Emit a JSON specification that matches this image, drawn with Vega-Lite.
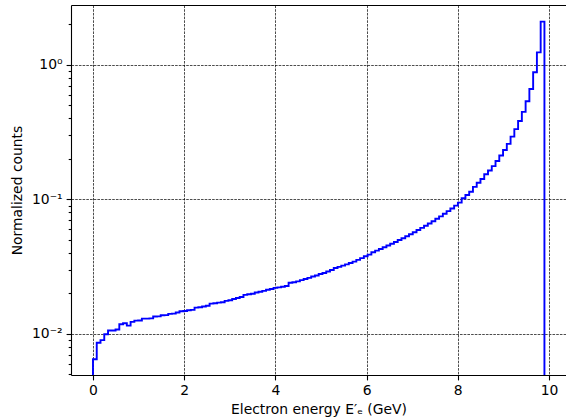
{
  "$schema": "https://vega.github.io/schema/vega-lite/v6.json",
  "width": 495,
  "height": 370,
  "autosize": {"type": "none"},
  "padding": {"left": 71, "top": 5, "right": 0, "bottom": 44},
  "background": "white",
  "config": {
    "view": {"stroke": null},
    "font": "DejaVu Sans",
    "axis": {
      "labelFont": "DejaVu Sans",
      "titleFont": "DejaVu Sans",
      "labelFontSize": 13.9,
      "titleFontSize": 13.9,
      "titleFontWeight": "normal",
      "labelColor": "#000",
      "titleColor": "#000",
      "domainColor": "#000",
      "domainWidth": 1.1,
      "tickColor": "#000",
      "tickWidth": 1.1,
      "gridColor": "#000",
      "gridWidth": 0.7,
      "gridDash": [2.6, 1.1]
    }
  },
  "data": {
    "values": [
      {"i": 0, "x": 0, "y": 0.001},
      {"i": 1, "x": 0, "y": 0.00649},
      {"i": 2, "x": 0.0825, "y": 0.0086},
      {"i": 3, "x": 0.165, "y": 0.0090},
      {"i": 4, "x": 0.2475, "y": 0.00995},
      {"i": 5, "x": 0.33, "y": 0.0106},
      {"i": 6, "x": 0.4125, "y": 0.0106},
      {"i": 7, "x": 0.495, "y": 0.0108},
      {"i": 8, "x": 0.5775, "y": 0.0118},
      {"i": 9, "x": 0.66, "y": 0.0120},
      {"i": 10, "x": 0.7425, "y": 0.01153},
      {"i": 11, "x": 0.825, "y": 0.0123},
      {"i": 12, "x": 0.9075, "y": 0.01256},
      {"i": 13, "x": 0.99, "y": 0.01258},
      {"i": 14, "x": 1.0725, "y": 0.0130},
      {"i": 15, "x": 1.155, "y": 0.0130},
      {"i": 16, "x": 1.2375, "y": 0.01305},
      {"i": 17, "x": 1.32, "y": 0.01346},
      {"i": 18, "x": 1.4025, "y": 0.0135},
      {"i": 19, "x": 1.485, "y": 0.01375},
      {"i": 20, "x": 1.5675, "y": 0.0138},
      {"i": 21, "x": 1.65, "y": 0.0141},
      {"i": 22, "x": 1.7325, "y": 0.01415},
      {"i": 23, "x": 1.815, "y": 0.01442},
      {"i": 24, "x": 1.8975, "y": 0.01476},
      {"i": 25, "x": 1.98, "y": 0.0148},
      {"i": 26, "x": 2.0625, "y": 0.0150},
      {"i": 27, "x": 2.145, "y": 0.0151},
      {"i": 28, "x": 2.2275, "y": 0.0157},
      {"i": 29, "x": 2.31, "y": 0.0158},
      {"i": 30, "x": 2.3925, "y": 0.0160},
      {"i": 31, "x": 2.475, "y": 0.0162},
      {"i": 32, "x": 2.5575, "y": 0.0168},
      {"i": 33, "x": 2.64, "y": 0.0169},
      {"i": 34, "x": 2.7225, "y": 0.0171},
      {"i": 35, "x": 2.805, "y": 0.0172},
      {"i": 36, "x": 2.8875, "y": 0.0176},
      {"i": 37, "x": 2.97, "y": 0.0178},
      {"i": 38, "x": 3.0525, "y": 0.0182},
      {"i": 39, "x": 3.135, "y": 0.0185},
      {"i": 40, "x": 3.2175, "y": 0.0188},
      {"i": 41, "x": 3.3, "y": 0.0195},
      {"i": 42, "x": 3.3825, "y": 0.0197},
      {"i": 43, "x": 3.465, "y": 0.0199},
      {"i": 44, "x": 3.5475, "y": 0.0203},
      {"i": 45, "x": 3.63, "y": 0.0206},
      {"i": 46, "x": 3.7125, "y": 0.0209},
      {"i": 47, "x": 3.795, "y": 0.0213},
      {"i": 48, "x": 3.8775, "y": 0.0216},
      {"i": 49, "x": 3.96, "y": 0.0220},
      {"i": 50, "x": 4.0425, "y": 0.0222},
      {"i": 51, "x": 4.125, "y": 0.0224},
      {"i": 52, "x": 4.2075, "y": 0.0227},
      {"i": 53, "x": 4.29, "y": 0.0240},
      {"i": 54, "x": 4.3725, "y": 0.0242},
      {"i": 55, "x": 4.455, "y": 0.0246},
      {"i": 56, "x": 4.5375, "y": 0.0251},
      {"i": 57, "x": 4.62, "y": 0.0256},
      {"i": 58, "x": 4.7025, "y": 0.0261},
      {"i": 59, "x": 4.785, "y": 0.0267},
      {"i": 60, "x": 4.8675, "y": 0.0272},
      {"i": 61, "x": 4.95, "y": 0.0279},
      {"i": 62, "x": 5.0325, "y": 0.0284},
      {"i": 63, "x": 5.115, "y": 0.0291},
      {"i": 64, "x": 5.1975, "y": 0.0299},
      {"i": 65, "x": 5.28, "y": 0.0309},
      {"i": 66, "x": 5.3625, "y": 0.0315},
      {"i": 67, "x": 5.445, "y": 0.0322},
      {"i": 68, "x": 5.5275, "y": 0.0329},
      {"i": 69, "x": 5.61, "y": 0.0337},
      {"i": 70, "x": 5.6925, "y": 0.0345},
      {"i": 71, "x": 5.775, "y": 0.0355},
      {"i": 72, "x": 5.8575, "y": 0.0366},
      {"i": 73, "x": 5.94, "y": 0.0378},
      {"i": 74, "x": 6.0225, "y": 0.0389},
      {"i": 75, "x": 6.105, "y": 0.0405},
      {"i": 76, "x": 6.1875, "y": 0.0416},
      {"i": 77, "x": 6.27, "y": 0.0428},
      {"i": 78, "x": 6.3525, "y": 0.0441},
      {"i": 79, "x": 6.435, "y": 0.0454},
      {"i": 80, "x": 6.5175, "y": 0.0468},
      {"i": 81, "x": 6.6, "y": 0.0483},
      {"i": 82, "x": 6.6825, "y": 0.0499},
      {"i": 83, "x": 6.765, "y": 0.0515},
      {"i": 84, "x": 6.8475, "y": 0.0532},
      {"i": 85, "x": 6.93, "y": 0.0551},
      {"i": 86, "x": 7.0125, "y": 0.0570},
      {"i": 87, "x": 7.095, "y": 0.0592},
      {"i": 88, "x": 7.1775, "y": 0.0614},
      {"i": 89, "x": 7.26, "y": 0.0637},
      {"i": 90, "x": 7.3425, "y": 0.0662},
      {"i": 91, "x": 7.425, "y": 0.0689},
      {"i": 92, "x": 7.5075, "y": 0.0718},
      {"i": 93, "x": 7.59, "y": 0.0748},
      {"i": 94, "x": 7.6725, "y": 0.0782},
      {"i": 95, "x": 7.755, "y": 0.0818},
      {"i": 96, "x": 7.8375, "y": 0.0857},
      {"i": 97, "x": 7.92, "y": 0.0899},
      {"i": 98, "x": 8.0025, "y": 0.0947},
      {"i": 99, "x": 8.085, "y": 0.102},
      {"i": 100, "x": 8.1675, "y": 0.108},
      {"i": 101, "x": 8.25, "y": 0.114},
      {"i": 102, "x": 8.3325, "y": 0.124},
      {"i": 103, "x": 8.415, "y": 0.133},
      {"i": 104, "x": 8.4975, "y": 0.142},
      {"i": 105, "x": 8.58, "y": 0.154},
      {"i": 106, "x": 8.6625, "y": 0.164},
      {"i": 107, "x": 8.745, "y": 0.177},
      {"i": 108, "x": 8.8275, "y": 0.193},
      {"i": 109, "x": 8.91, "y": 0.212},
      {"i": 110, "x": 8.9925, "y": 0.233},
      {"i": 111, "x": 9.075, "y": 0.259},
      {"i": 112, "x": 9.1575, "y": 0.293},
      {"i": 113, "x": 9.24, "y": 0.333},
      {"i": 114, "x": 9.3225, "y": 0.383},
      {"i": 115, "x": 9.405, "y": 0.448},
      {"i": 116, "x": 9.4875, "y": 0.537},
      {"i": 117, "x": 9.57, "y": 0.663},
      {"i": 118, "x": 9.6525, "y": 0.883},
      {"i": 119, "x": 9.735, "y": 1.24},
      {"i": 120, "x": 9.8175, "y": 2.10},
      {"i": 121, "x": 9.9, "y": 2.10},
      {"i": 122, "x": 9.9, "y": 0.001}
    ]
  },
  "layer": [
    {
      "mark": {"type": "line", "interpolate": "step-after", "color": "#0000ff", "strokeWidth": 1.9, "clip": true},
      "encoding": {
        "x": {
          "field": "x", "type": "quantitative",
          "scale": {"domain": [-0.482, 10.373], "nice": false, "zero": false},
          "axis": {
            "orient": "bottom",
            "values": [0, 2, 4, 6, 8, 10],
            "format": "d",
            "grid": true,
            "tickSize": 4.9,
            "labelPadding": 3.5,
            "title": "Electron energy E′ₑ (GeV)",
            "titlePadding": 5
          }
        },
        "y": {
          "field": "y", "type": "quantitative",
          "scale": {"type": "log", "domain": [0.00495, 2.79], "nice": false},
          "axis": {
            "orient": "left",
            "values": [0.005, 0.006, 0.007, 0.008, 0.009, 0.01, 0.02, 0.03, 0.04, 0.05, 0.06, 0.07, 0.08, 0.09, 0.1, 0.2, 0.3, 0.4, 0.5, 0.6, 0.7, 0.8, 0.9, 1, 2],
            "labelExpr": "datum.value == 1 ? '10⁰' : datum.value == 0.1 ? '10⁻¹' : datum.value == 0.01 ? '10⁻²' : ''",
            "grid": true,
            "gridOpacity": {"condition": {"test": "datum.value == 1 || datum.value == 0.1 || datum.value == 0.01", "value": 1}, "value": 0},
            "tickSize": {"condition": {"test": "datum.value == 1 || datum.value == 0.1 || datum.value == 0.01", "value": 4.9}, "value": 2.8},
            "labelPadding": 4,
            "labelBaseline": "middle",
            "title": "Normalized counts",
            "titlePadding": 7
          }
        },
        "order": {"field": "i", "type": "quantitative"}
      }
    },
    {
      "mark": {"type": "line", "strokeOpacity": 0, "clip": true},
      "encoding": {
        "x": {
          "field": "x", "type": "quantitative",
          "axis": {"orient": "top", "labels": false, "ticks": false, "grid": false, "domain": true, "title": null}
        },
        "y": {"field": "y", "type": "quantitative"},
        "order": {"field": "i", "type": "quantitative"}
      }
    }
  ],
  "resolve": {"axis": {"x": "independent"}}
}
